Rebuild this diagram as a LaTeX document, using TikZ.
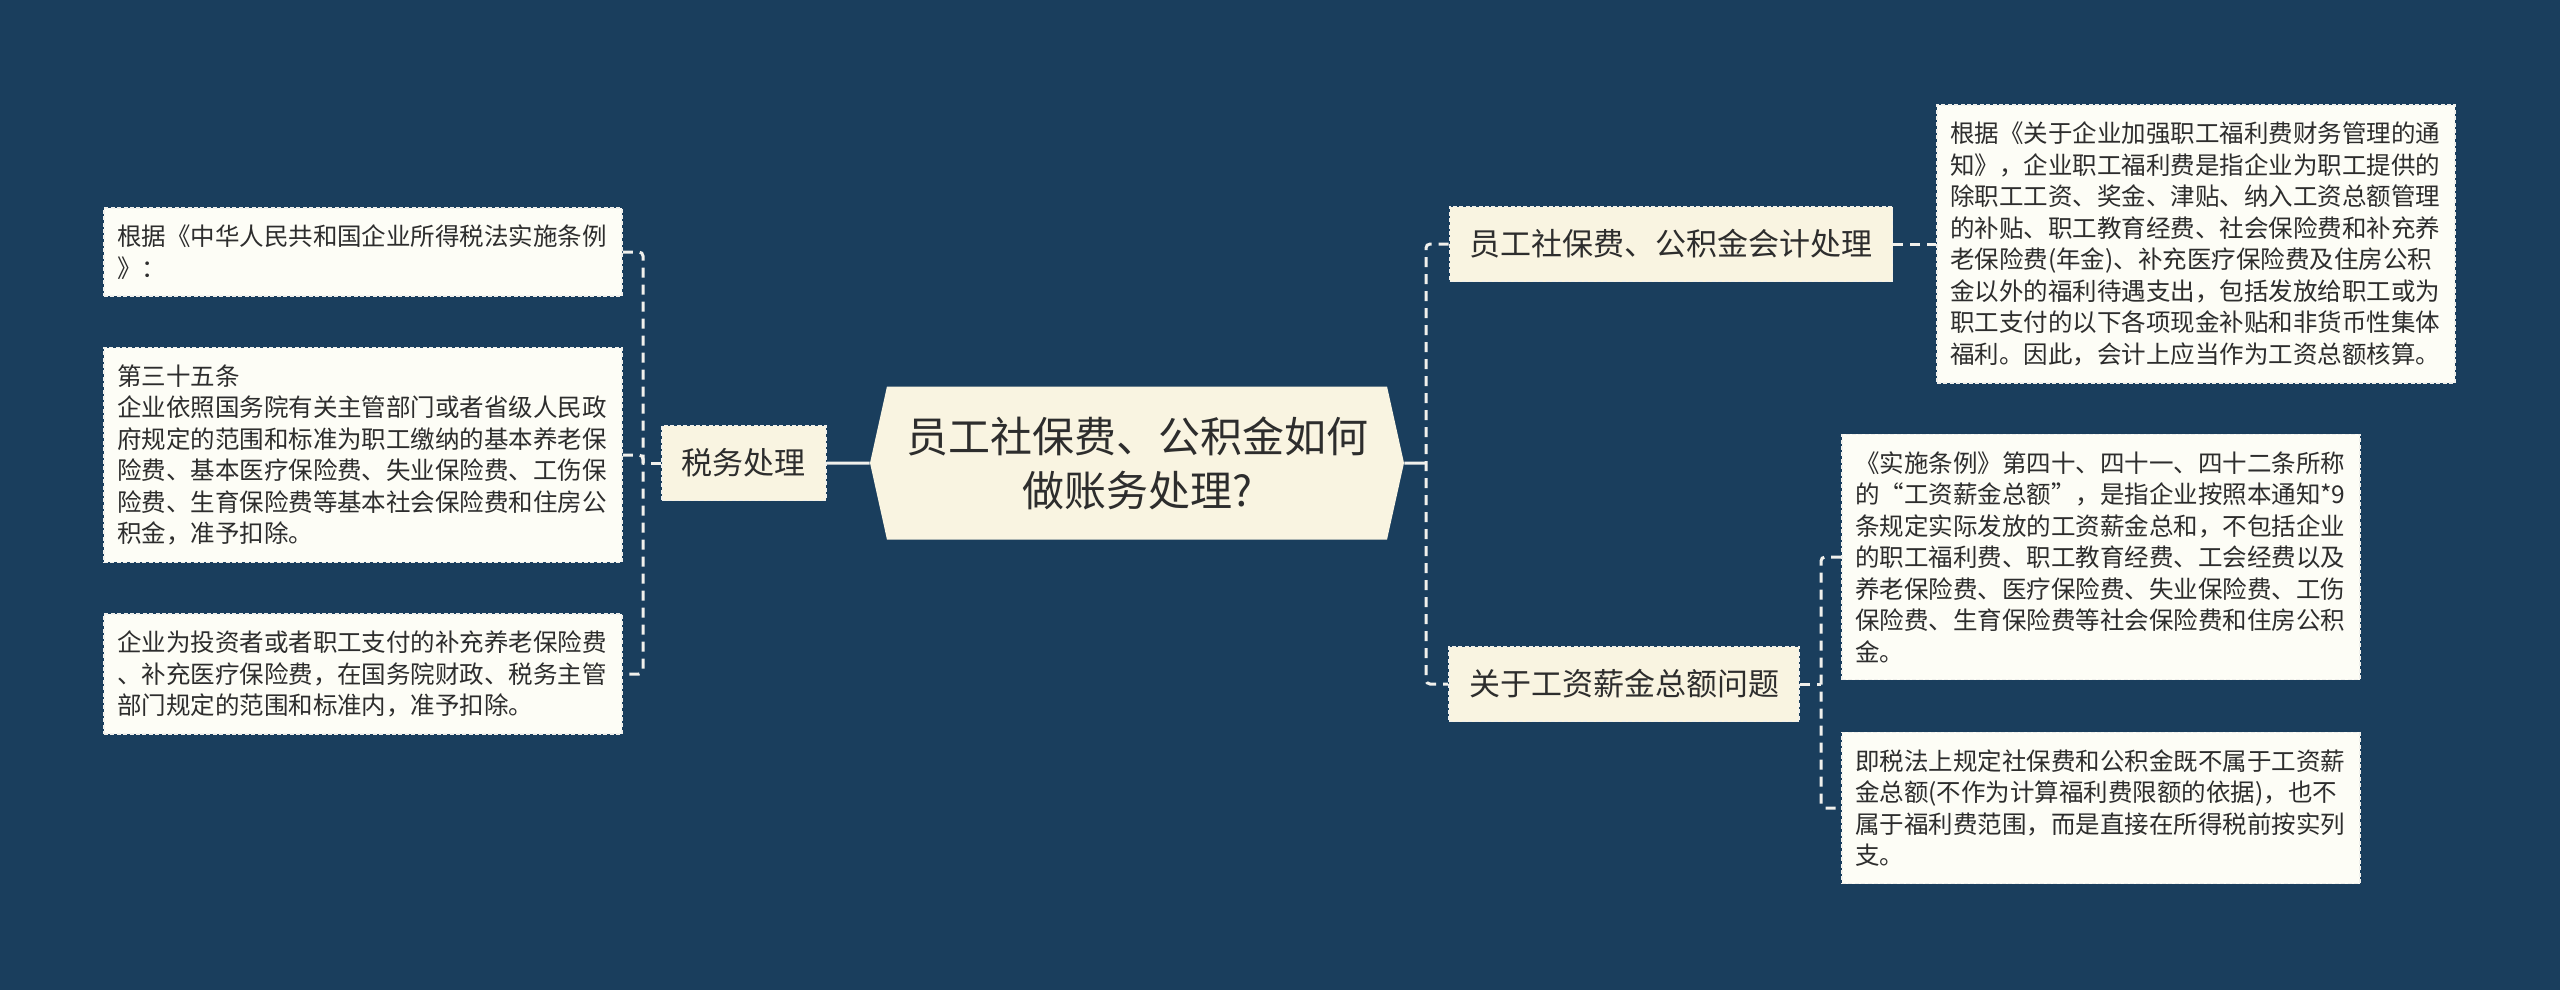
\documentclass[tikz,border=0pt]{standalone}
\usepackage{fontspec}
\setmainfont{Noto Sans CJK SC}
\usetikzlibrary{positioning, shapes.symbols}
\definecolor{mapnavy}{RGB}{26, 62, 93}
\definecolor{mapcream}{RGB}{249, 244, 225}
\definecolor{mapleaf}{RGB}{253, 253, 246}
\definecolor{mapink}{RGB}{45, 45, 45}
\definecolor{mapline}{RGB}{240, 240, 236}
\tikzset{
  rootbox/.style={signal, signal to=west and east, signal pointer angle=155, fill=mapcream,
              text=mapink, minimum width=267pt, minimum height=76.5pt, align=center,
              font=\fontsize{21}{27}\selectfont},
  topic/.style={rectangle, draw=mapline, dash pattern=on 2pt off 1.2pt, line width=0.8pt,
              fill=mapcream, text=mapink, minimum height=37.5pt, inner xsep=10pt,
              font=\fontsize{15.5}{19}\selectfont},
  leaf/.style={rectangle, draw=mapline, dash pattern=on 2pt off 1.2pt, line width=0.8pt,
              fill=mapleaf, text=mapink, text width=246pt, inner xsep=6.5pt, inner ysep=8.5pt,
              align=left, font=\fontsize{12.25}{15.75}\selectfont},
  link/.style={draw=mapline, line width=1.5pt, dash pattern=on 5pt off 3.5pt, rounded corners=2pt},
  trunk/.style={draw=mapline, line width=1.5pt},
}

\begin{document}
\begin{tikzpicture}[x=0.5pt, y=-0.5pt, node distance=21.5pt]
    \fill[mapnavy] (0,0) rectangle (2560,990);
    \useasboundingbox (0,0) rectangle (2560,990);

    \node[rootbox] (root) at (1137,463) {员工社保费、公积金如何\\做账务处理?};
    \node[topic, left=of root] (tax) {税务处理};
    \node[topic] (acc) at (1671,244) {员工社保费、公积金会计处理};
    \node[topic] (wage) at (1624,684) {关于工资薪金总额问题};

    \node[leaf] (law) at (363,252) {根据《中华人民共和国企业所得税法实施条例\\》：};
    \node[leaf] (art) at (363,455) {第三十五条\\企业依照国务院有关主管部门或者省级人民政\\府规定的范围和标准为职工缴纳的基本养老保\\险费、基本医疗保险费、失业保险费、工伤保\\险费、生育保险费等基本社会保险费和住房公\\积金，准予扣除。};
    \node[leaf] (extra) at (363,674) {企业为投资者或者职工支付的补充养老保险费\\、补充医疗保险费，在国务院财政、税务主管\\部门规定的范围和标准内，准予扣除。};

    \node[leaf] (notice) at (2196,244) {根据《关于企业加强职工福利费财务管理的通\\知》，企业职工福利费是指企业为职工提供的\\除职工工资、奖金、津贴、纳入工资总额管理\\的补贴、职工教育经费、社会保险费和补充养\\老保险费(年金)、补充医疗保险费及住房公积\\金以外的福利待遇支出，包括发放给职工或为\\职工支付的以下各项现金补贴和非货币性集体\\福利。因此，会计上应当作为工资总额核算。};
    \node[leaf] (total) at (2101,557) {《实施条例》第四十、四十一、四十二条所称\\的“工资薪金总额”，是指企业按照本通知*9\\条规定实际发放的工资薪金总和，不包括企业\\的职工福利费、职工教育经费、工会经费以及\\养老保险费、医疗保险费、失业保险费、工伤\\保险费、生育保险费等社会保险费和住房公积\\金。};
    \node[leaf] (taxlaw) at (2101,808) {即税法上规定社保费和公积金既不属于工资薪\\金总额(不作为计算福利费限额的依据)，也不\\属于福利费范围，而是直接在所得税前按实列\\支。};

    \coordinate (lbus) at (643,463);
    \coordinate (rbus) at (1426,463);
    \coordinate (wbus) at (1821,684);

    \draw[trunk] (tax) -- (root);
    \draw[trunk] (root) -- (rbus);
    \draw[link] (tax) -- (lbus);
    \draw[link] (law.east) -| (lbus) |- (extra.east);
    \draw[link] (art.east) -| (lbus);
    \draw[link] (acc.west) -| (rbus) |- (wage.west);
    \draw[link] (acc) -- (notice);
    \draw[link] (wage) -- (wbus);
    \draw[link] (total.west) -| (wbus) |- (taxlaw.west);
\end{tikzpicture}
\end{document}
